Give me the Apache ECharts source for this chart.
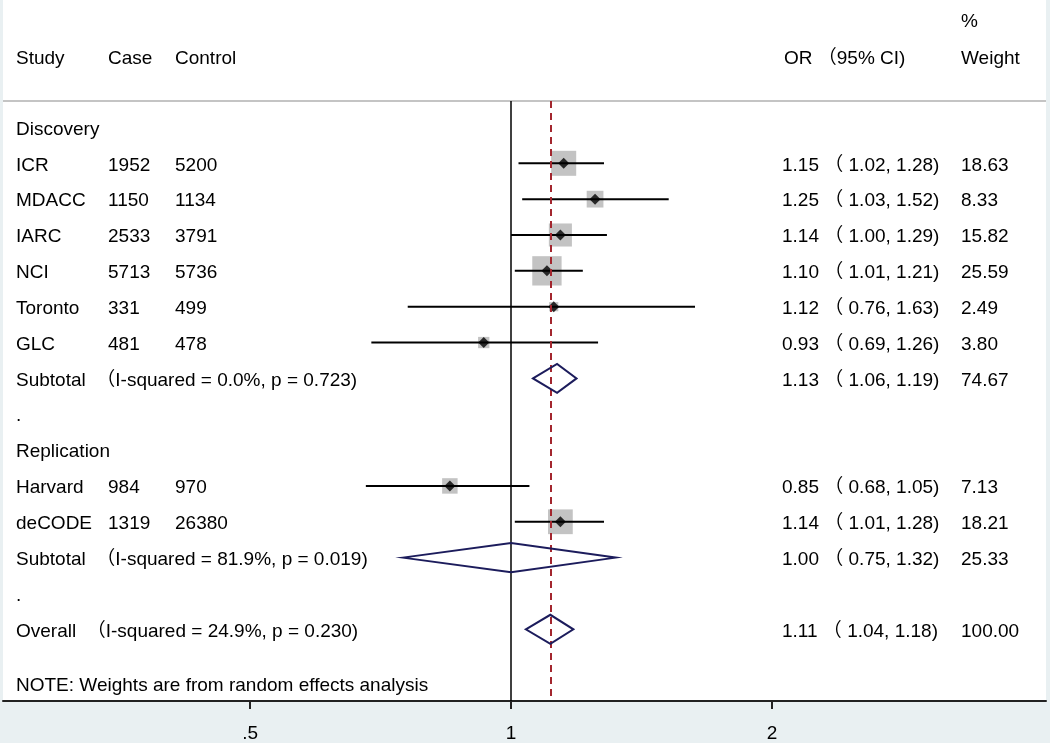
<!DOCTYPE html>
<html>
<head>
<meta charset="utf-8">
<script src="https://cdn.jsdelivr.net/npm/echarts@6/dist/echarts.min.js"></script>
<style>html,body{margin:0;padding:0;background:#e9f0f2;}#c{width:1050px;height:743px;}</style>
</head>
<body>
<div id="c"></div>
<script>
// ---- data ----
const studies   = ['ICR', 'MDACC', 'IARC', 'NCI', 'Toronto', 'GLC', 'Harvard', 'deCODE'];
const studyRows = [1, 2, 3, 4, 5, 6, 10, 11];
const cases     = [1952, 1150, 2533, 5713, 331, 481, 984, 1319];
const controls  = [5200, 1134, 3791, 5736, 499, 478, 970, 26380];
const orEst     = [1.15, 1.25, 1.14, 1.10, 1.12, 0.93, 0.85, 1.14];
const orLo      = [1.02, 1.03, 1.00, 1.01, 0.76, 0.69, 0.68, 1.01];
const orHi      = [1.28, 1.52, 1.29, 1.21, 1.63, 1.26, 1.05, 1.28];
const weights   = [18.63, 8.33, 15.82, 25.59, 2.49, 3.80, 7.13, 18.21];

const pooledNames  = ['Subtotal', 'Subtotal', 'Overall'];
const pooledRows   = [7, 12, 14];
const pooledI2     = ['0.0%', '81.9%', '24.9%'];
const pooledP      = ['0.723', '0.019', '0.230'];
const pooledEst    = [1.13, 1.00, 1.11];
const pooledLo     = [1.06, 0.75, 1.04];
const pooledHi     = [1.19, 1.32, 1.18];
const pooledWeight = [74.67, 25.33, 100.00];

const groupNames = ['Discovery', 'Replication'];
const groupRows  = [0, 9];
const blankRows  = [8, 13];

const xTicks = [0.5, 1, 2];
const xTickLabels = ['.5', '1', '2'];
const nullValue = 1;
const overallEst = pooledEst[2];

// ---- layout / style ----
const FONT = '"Liberation Sans", Arial, "Noto Sans CJK SC", sans-serif';
const FS = 19;
const COL = {study: 16, cas: 108, ctrl: 175, or: 782, wt: 961};
const TXT_DY = 2;
const Y_TOP = -0.739, Y_MIN = -3.556, Y_MAX = 16;

function txt(x, y, s) {
  return {type: 'text', style: {x: x, y: y + TXT_DY, text: s, fill: '#000', fontSize: FS, fontFamily: FONT, align: 'left', verticalAlign: 'middle'}};
}
function ciText(e, l, h) {
  return e.toFixed(2) + ' \uFF08 ' + l.toFixed(2) + ', ' + h.toFixed(2) + ')';
}

const studyData = studies.map((s, i) => [orEst[i], studyRows[i], orLo[i], orHi[i], weights[i], i]);
const pooledData = pooledNames.map((s, i) => [pooledEst[i], pooledRows[i], pooledLo[i], pooledHi[i], pooledWeight[i], i]);
const labelData = groupNames.map((g, i) => [1, groupRows[i], g]).concat(blankRows.map(r => [1, r, '.']));

const chart = echarts.init(document.getElementById('c'), null, {renderer: 'canvas'});
chart.setOption({
  backgroundColor: '#e9f0f2',
  animation: false,
  grid: {left: 3, right: 4, top: 0, height: 701, show: true, backgroundColor: '#ffffff', borderWidth: 0},
  xAxis: {
    type: 'log', logBase: 2, min: 0.2594, max: 4.1405,
    axisLine: {show: true, onZero: false, lineStyle: {color: '#222', width: 2}},
    axisTick: {show: true, length: 8, lineStyle: {color: '#222', width: 2}, customValues: xTicks},
    axisLabel: {customValues: xTicks, margin: 23, color: '#000', fontSize: FS, fontFamily: FONT,
      formatter: v => { const k = xTicks.findIndex(t => Math.abs(t - v) < 1e-9); return k >= 0 ? xTickLabels[k] : ''; }},
    splitLine: {show: false}, minorTick: {show: false}
  },
  yAxis: {type: 'value', inverse: true, min: Y_MIN, max: Y_MAX, show: false, splitLine: {show: false}},
  graphic: [
    {type: 'line', shape: {x1: 3, y1: 101, x2: 1046, y2: 101}, style: {stroke: '#c4c4c4', lineWidth: 2}, z: 1},
    {type: 'text', left: COL.study, top: 49, style: {text: 'Study', fill: '#000', fontSize: FS, fontFamily: FONT}},
    {type: 'text', left: COL.cas, top: 49, style: {text: 'Case', fill: '#000', fontSize: FS, fontFamily: FONT}},
    {type: 'text', left: COL.ctrl, top: 49, style: {text: 'Control', fill: '#000', fontSize: FS, fontFamily: FONT}},
    {type: 'text', left: COL.or + 2, top: 49, style: {text: 'OR \uFF0895% CI)', fill: '#000', fontSize: FS, fontFamily: FONT}},
    {type: 'text', left: COL.wt, top: 12, style: {text: '%', fill: '#000', fontSize: FS, fontFamily: FONT}},
    {type: 'text', left: COL.wt, top: 49, style: {text: 'Weight', fill: '#000', fontSize: FS, fontFamily: FONT}},
    {type: 'text', left: COL.study, top: 676, style: {text: 'NOTE: Weights are from random effects analysis', fill: '#000', fontSize: FS, fontFamily: FONT}}
  ],
  series: [
    {
      type: 'scatter', name: 'weightBox', data: studyData, z: 2,
      symbol: 'rect', symbolSize: v => Math.sqrt(v[4]) * 5.8,
      itemStyle: {color: '#b4b4b4'}, silent: true
    },
    {
      type: 'custom', name: 'ci', data: studyData, z: 3, silent: true,
      renderItem: (params, api) => {
        const a = api.coord([api.value(2), api.value(1)]);
        const b = api.coord([api.value(3), api.value(1)]);
        return {type: 'line', shape: {x1: a[0], y1: a[1], x2: b[0], y2: b[1]}, style: {stroke: '#000', lineWidth: 2}};
      }
    },
    {
      type: 'scatter', name: 'estimate', data: studyData, z: 4,
      symbol: 'diamond', symbolSize: 11, itemStyle: {color: '#000'}, silent: true,
      markLine: {
        silent: true, symbol: 'none', label: {show: false},
        data: [
          [{coord: [nullValue, Y_TOP], lineStyle: {color: '#000', width: 1.5, type: 'solid'}}, {coord: [nullValue, Y_MAX]}],
          [{coord: [overallEst, Y_TOP], lineStyle: {color: '#a3262e', width: 2, type: [7, 5]}}, {coord: [overallEst, Y_MAX]}]
        ]
      }
    },
    {
      type: 'custom', name: 'pooled', data: pooledData, z: 5, silent: true,
      renderItem: (params, api) => {
        const r = api.value(1);
        const l = api.coord([api.value(2), r]);
        const h = api.coord([api.value(3), r]);
        const t = api.coord([api.value(0), r - 0.405]);
        const b = api.coord([api.value(0), r + 0.405]);
        return {type: 'polygon', shape: {points: [l, t, h, b]}, style: {fill: 'none', stroke: '#1c1c5c', lineWidth: 2}};
      }
    },
    {
      type: 'custom', name: 'studyText', data: studyData, z: 6, silent: true,
      renderItem: (params, api) => {
        const i = api.value(5);
        const y = api.coord([1, api.value(1)])[1];
        return {type: 'group', children: [
          txt(COL.study, y, studies[i]),
          txt(COL.cas, y, String(cases[i])),
          txt(COL.ctrl, y, String(controls[i])),
          txt(COL.or, y, ciText(orEst[i], orLo[i], orHi[i])),
          txt(COL.wt, y, weights[i].toFixed(2))
        ]};
      }
    },
    {
      type: 'custom', name: 'pooledText', data: pooledData, z: 6, silent: true,
      renderItem: (params, api) => {
        const i = api.value(5);
        const y = api.coord([1, api.value(1)])[1];
        return {type: 'group', children: [
          txt(COL.study, y, pooledNames[i] + '  \uFF08I-squared = ' + pooledI2[i] + ', p = ' + pooledP[i] + ')'),
          txt(COL.or, y, ciText(pooledEst[i], pooledLo[i], pooledHi[i])),
          txt(COL.wt, y, pooledWeight[i].toFixed(2))
        ]};
      }
    },
    {
      type: 'custom', name: 'groupText', data: labelData, z: 6, silent: true,
      renderItem: (params, api) => {
        const y = api.coord([1, api.value(1)])[1];
        return txt(COL.study, y, labelData[params.dataIndex][2]);
      }
    }
  ]
});
</script>
</body>
</html>
